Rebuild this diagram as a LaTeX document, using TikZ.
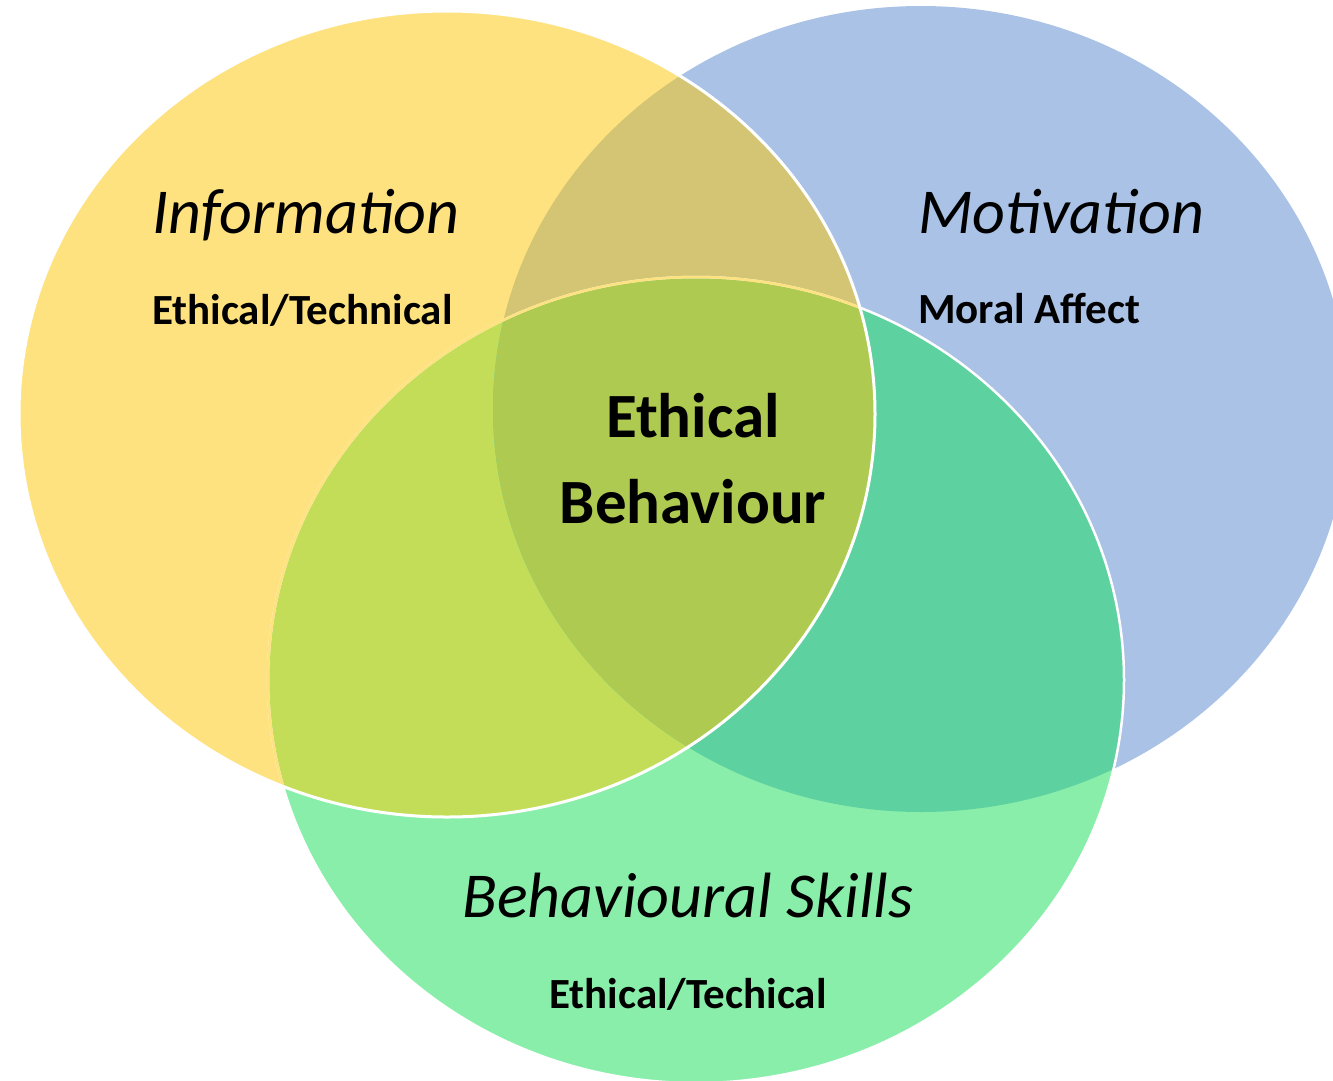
\documentclass[tikz,border=0pt]{standalone}
\usepackage{fontspec}
\setmainfont{Carlito}
\definecolor{infocol}{HTML}{FEE27F}
\definecolor{moticol}{HTML}{A9C2E6}
\definecolor{skillcol}{HTML}{89EEAA}
\definecolor{infomoti}{HTML}{D4C574}
\definecolor{infoskill}{HTML}{C3DD59}
\definecolor{motiskill}{HTML}{5ED1A1}
\definecolor{allthree}{HTML}{AFCA50}
\begin{document}
\begin{tikzpicture}[x=1pt,y=-1pt,x radius=428pt,y radius=403pt,
  head/.style={font=\itshape\fontsize{64}{70}\selectfont},
  sub/.style={font=\bfseries\fontsize{43}{46}\selectfont},
  core/.style={font=\bfseries\fontsize{63}{66}\selectfont}]
\useasboundingbox (0,0) rectangle (1333,1080);
\clip (0,0) rectangle (1333,1080);
\coordinate (info) at (447,414);
\coordinate (moti) at (921,409);
\coordinate (skill) at (696,680);
% the three sets
\fill[moticol] (moti) ellipse;
\fill[infocol] (info) ellipse;
\begin{scope}
\clip (info) ellipse;
\fill[infomoti] (moti) ellipse;
\end{scope}
\fill[skillcol] (skill) ellipse;
\begin{scope}
\clip (info) ellipse;
\fill[infoskill] (skill) ellipse;
\end{scope}
\begin{scope}
\clip (moti) ellipse;
\fill[motiskill] (skill) ellipse;
\end{scope}
\begin{scope}
\clip (info) ellipse;
\clip (moti) ellipse;
\fill[allthree] (skill) ellipse;
\end{scope}
% outlines
\draw[white,line width=2.5pt] (skill) ellipse;
\begin{scope}
\clip (info) ellipse;
\draw[infocol,line width=2.5pt] (skill) ellipse;
\end{scope}
\draw[white,line width=3pt] (info) ellipse;
% labels
\node[head,anchor=base west,inner sep=0pt] (infotitle) at (152,233) {Information};
\node[sub,anchor=base west,inner sep=0pt] (infotext) at (152,324) {Ethical/Technical};
\node[head,anchor=base west,inner sep=0pt] (motititle) at (918,233) {Motivation};
\node[sub,anchor=base west,inner sep=0pt] (motitext) at (918,323) {Moral Affect};
\node[core,anchor=base,inner sep=0pt] (coretop) at (693,437) {Ethical};
\node[core,anchor=base,inner sep=0pt] (corebottom) at (693,523) {Behaviour};
\node[head,anchor=base,inner sep=0pt] (skilltitle) at (688,917) {Behavioural Skills};
\node[sub,anchor=base,inner sep=0pt] (skilltext) at (688,1008) {Ethical/Techical};
\end{tikzpicture}
\end{document}
